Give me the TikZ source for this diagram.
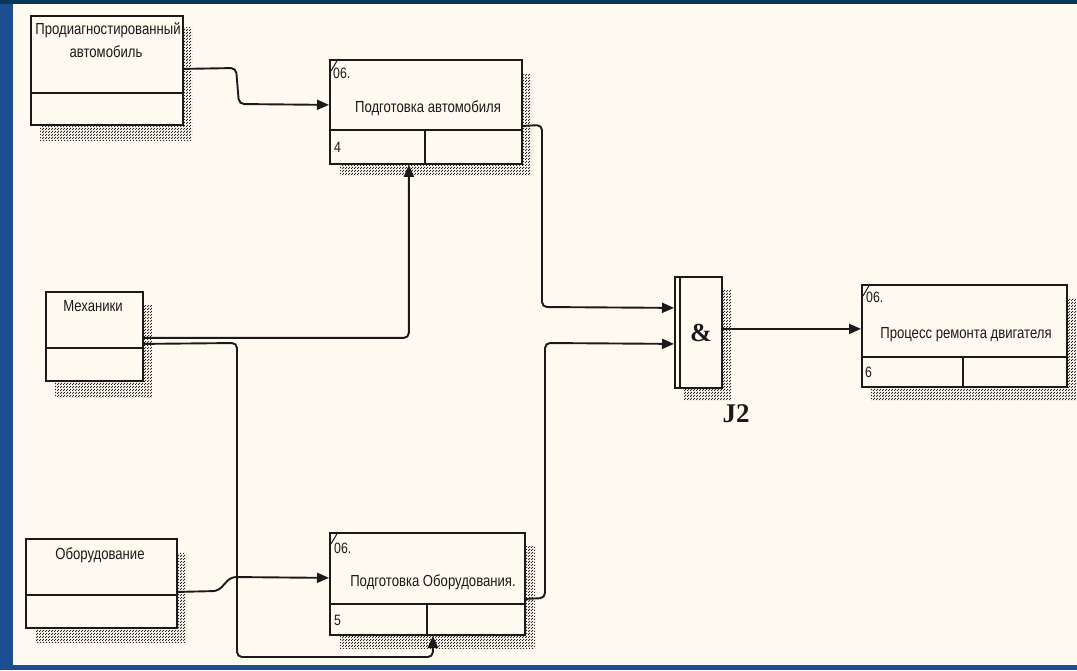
\documentclass[tikz,border=0pt]{standalone}
\usepackage{fontspec}
\setmainfont{Liberation Sans}[FakeStretch=0.82]
\newfontfamily\jfont{Liberation Serif}
\usetikzlibrary{arrows.meta,patterns,calc}
\definecolor{cream}{HTML}{FFFAF0}
\definecolor{topblue}{HTML}{06375B}
\definecolor{sideblue}{HTML}{1B4F92}
\definecolor{ink}{HTML}{1A1A1A}
\pgfdeclarepatternformonly{hatchdots}{\pgfqpoint{0pt}{0pt}}{\pgfqpoint{3pt}{3pt}}{\pgfqpoint{3pt}{3pt}}{%
  \pgfpathrectangle{\pgfqpoint{0pt}{0pt}}{\pgfqpoint{1.4pt}{1.4pt}}%
  \pgfpathrectangle{\pgfqpoint{1.5pt}{1.5pt}}{\pgfqpoint{1.4pt}{1.4pt}}%
  \pgfusepath{fill}}
\tikzset{
  box/.style={draw=ink, line width=1.8pt, fill=cream, anchor=north west, inner sep=0pt},
  shadowfill/.style={pattern=hatchdots, pattern color=black!85},
  divider/.style={draw=ink, line width=1.7pt},
  lbl/.style={text=ink, font=\fontsize{16}{18}\selectfont, inner sep=0pt},
  num/.style={text=ink, font=\fontsize{15}{17}\selectfont, inner sep=0pt, anchor=west},
  slash/.style={draw=ink, line width=1pt},
  conn/.style={draw=ink, line width=1.9pt, rounded corners=5pt},
  arr/.style={conn, -{Triangle[length=12pt,width=10pt]}}
}
\begin{document}
\begin{tikzpicture}[x=1pt,y=-1pt]
\useasboundingbox (0,0) rectangle (1077,670);
% background
\fill[sideblue] (0,0) rectangle (1077,670);
\fill[topblue] (0,0) rectangle (1077,4);
\fill[cream] (13,4) rectangle (1077,665);

% shadows
\fill[shadowfill] (40,27) rectangle (192,140);
\fill[shadowfill] (340,73) rectangle (531,175);
\fill[shadowfill] (55,305) rectangle (152,397);
\fill[shadowfill] (35,553) rectangle (186,642);
\fill[shadowfill] (340,546) rectangle (535,648);
\fill[shadowfill] (683,290) rectangle (731,400);
\fill[shadowfill] (871,298) rectangle (1076,400);

% boxes
\node[box, minimum width=152pt, minimum height=109pt] (b1) at (30,15) {};
\node[box, minimum width=192pt, minimum height=104pt] (bA) at (329,59) {};
\node[box, minimum width=97pt, minimum height=89pt] (bM) at (45,291) {};
\node[box, minimum width=151pt, minimum height=89pt] (bE) at (25,538) {};
\node[box, minimum width=195pt, minimum height=102pt] (bB) at (329,532) {};
\node[box, minimum width=47pt, minimum height=111pt] (bJ) at (674,276) {};
\node[box, minimum width=205pt, minimum height=102pt] (bC) at (861,284) {};

% dividers
\draw[divider] (b1.west |- 0,93) -- (b1.east |- 0,93);
\draw[divider] (bA.west |- 0,130) -- (bA.east |- 0,130);
\draw[divider] (425,130) -- (425,163);
\draw[divider] (bM.west |- 0,348) -- (bM.east |- 0,348);
\draw[divider] (bE.west |- 0,595) -- (bE.east |- 0,595);
\draw[divider] (bB.west |- 0,604) -- (bB.east |- 0,604);
\draw[divider] (427,604) -- (427,634);
\draw[divider] (680,276) -- (680,387);
\draw[divider] (bC.west |- 0,357) -- (bC.east |- 0,357);
\draw[divider] (963,357) -- (963,386);

% corner slashes
\draw[slash] ([shift={(2pt,-12pt)}]bA.north west) -- ([xshift=9pt]bA.north west);
\draw[slash] ([shift={(2pt,-12pt)}]bB.north west) -- ([xshift=9pt]bB.north west);
\draw[slash] ([shift={(2pt,-12pt)}]bC.north west) -- ([xshift=9pt]bC.north west);

% texts
\node[lbl] (t1a) at (108,30) {Продиагностированный};
\node[lbl] (t1b) at (106,52) {автомобиль};
\node[num] (nA) at (333,73) {06.};
\node[lbl] (tA) at (428,108) {Подготовка автомобиля};
\node[num] (n4) at (334,147) {4};
\node[lbl] (tM) at (93,306) {Механики};
\node[lbl] (tE) at (100,555) {Оборудование};
\node[num] (nB) at (334,548) {06.};
\node[lbl] (tB) at (433,582) {Подготовка Оборудования.};
\node[num] (n5) at (334,620) {5};
\node[num] (nC) at (866,297) {06.};
\node[lbl] (tC) at (966,335) {Процесс ремонта двигателя};
\node[num] (n6) at (865,372) {6};
\node[text=ink, font=\jfont\bfseries\fontsize{26}{28}\selectfont, inner sep=0pt] (amp) at (701,333) {\&};
\node[text=ink, font=\jfont\bfseries\fontsize{27}{30}\selectfont, inner sep=0pt] (j2) at (736,414) {J2};

% connectors
\draw[arr] ([yshift=1.5pt]b1.east) -- (236,68) -- (239,104) -- ([yshift=7pt]bA.west);
\draw[arr] ([yshift=-1.5pt]bM.east) -| ([xshift=-17pt]bA.south);
\draw[arr] ([yshift=-7.5pt]bM.east) -- (237,343) -- (237,657) -| ([xshift=5.5pt]bB.south);
\draw[arr] ([yshift=-8.5pt]bE.east) -- (218,591) -- (231,577) -- ([yshift=6pt]bB.west);
\draw[arr] ([yshift=-14pt]bA.east) -- (542,125) -- (542,307) -- ([yshift=24.5pt]bJ.west);
\draw[arr] ([yshift=-15pt]bB.east) -- (545,598) -- (545,343) -- ([yshift=-11.5pt]bJ.west);
\draw[arr] ([yshift=3.5pt]bJ.east) -- ([yshift=7pt]bC.west);
\end{tikzpicture}
\end{document}
